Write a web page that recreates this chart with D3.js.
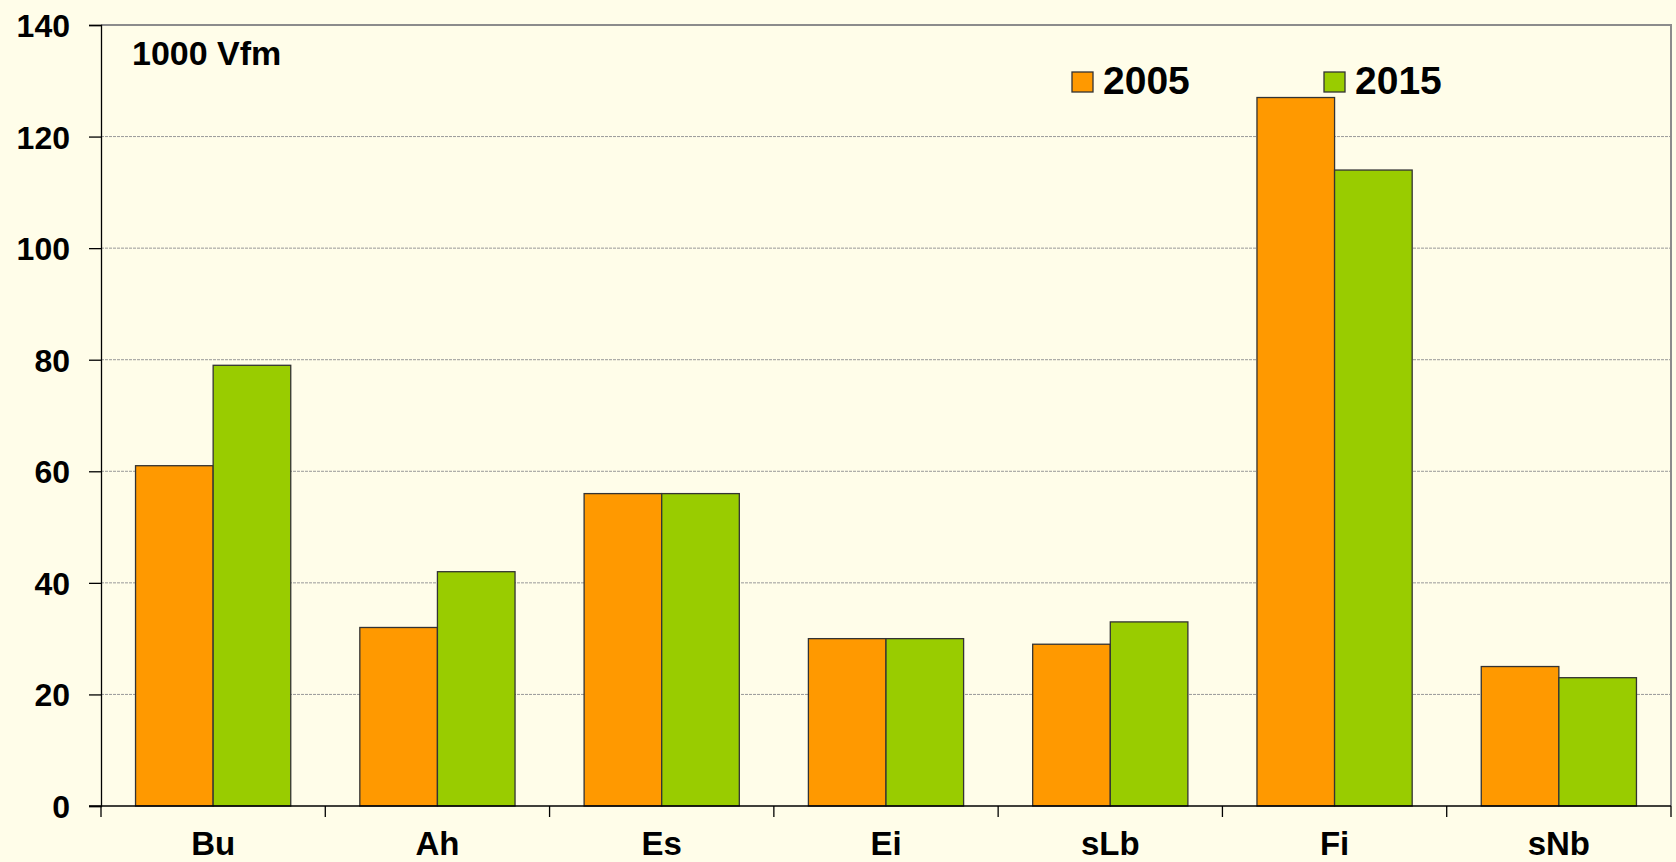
<!DOCTYPE html>
<html>
<head>
<meta charset="utf-8">
<script src="https://cdn.jsdelivr.net/npm/d3@7"></script>
<style>
  body { margin: 0; background: #fffde9; }
  svg { display: block; }
  text { font-family: Arial, "Liberation Sans", sans-serif; font-weight: bold; fill: #000; }
</style>
</head>
<body>
<div id="chart"></div>
<script>
// data
var categories = ["Bu", "Ah", "Es", "Ei", "sLb", "Fi", "sNb"];
var years = ["2005", "2015"];
var values2005 = [61, 32, 56, 30, 29, 127, 25];
var values2015 = [79, 42, 56, 30, 33, 114, 23];
var yTicks = [0, 20, 40, 60, 80, 100, 120, 140];
var colors = ["#ff9900", "#99cc00"];

var width = 1676, height = 862;
// note: "top" is a window property, so use other names
var plotLeft = 101, plotRight = 1671, plotTop = 25, plotBottom = 806;

var svg = d3.select("#chart").append("svg").attr("width", width).attr("height", height);
svg.append("rect").attr("width", width).attr("height", height).attr("fill", "#fffde9");

var x0 = d3.scaleBand().domain(categories).range([plotLeft, plotRight]).paddingInner(0).paddingOuter(0);
var x1 = d3.scaleBand().domain(years).range([x0.bandwidth() * 0.154, x0.bandwidth() * 0.846]);
var y = d3.scaleLinear().domain([0, 140]).range([plotBottom, plotTop]);

// gridlines
svg.append("g")
    .selectAll("line")
    .data(yTicks.filter(function (d) { return d > 0 && d < 140; }))
    .enter().append("line")
    .attr("x1", plotLeft).attr("x2", plotRight)
    .attr("y1", function (d) { return y(d); })
    .attr("y2", function (d) { return y(d); })
    .attr("stroke", "#999")
    .attr("stroke-width", 1)
    .attr("stroke-dasharray", "3,1");

// plot border top + right
svg.append("path")
    .attr("d", "M" + plotLeft + "," + plotTop + "H" + plotRight + "V" + plotBottom)
    .attr("fill", "none").attr("stroke", "#8c8c8c").attr("stroke-width", 2);

// bars
var rows = categories.map(function (c, i) {
    return { cat: c, vals: [values2005[i], values2015[i]] };
});
var groups = svg.append("g").selectAll("g")
    .data(rows)
    .enter().append("g")
    .attr("transform", function (d) { return "translate(" + x0(d.cat) + ",0)"; });
groups.selectAll("rect")
    .data(function (d) { return d.vals.map(function (v, j) { return { year: years[j], v: v, j: j }; }); })
    .enter().append("rect")
    .attr("x", function (d) { return x1(d.year); })
    .attr("y", function (d) { return y(d.v); })
    .attr("width", x1.bandwidth())
    .attr("height", function (d) { return y(0) - y(d.v); })
    .attr("fill", function (d) { return colors[d.j]; })
    .attr("stroke", "#333")
    .attr("stroke-width", 1.3);

// y axis
var yAxis = d3.axisLeft(y).tickValues(yTicks).tickSize(12).tickPadding(19);
var gy = svg.append("g").attr("transform", "translate(" + plotLeft + ",0)").call(yAxis);
gy.select(".domain").attr("stroke", "#000").attr("stroke-width", 1.3);
gy.selectAll(".tick line").attr("stroke", "#000").attr("stroke-width", 1.3);
gy.selectAll(".tick text").style("font-size", "32px").attr("dy", "0.36em");

// x axis: ticks at category boundaries
svg.append("line")
    .attr("x1", plotLeft - 12).attr("x2", plotRight)
    .attr("y1", plotBottom).attr("y2", plotBottom)
    .attr("stroke", "#000").attr("stroke-width", 1.3);
var bounds = categories.map(function (c) { return x0(c); }).concat([plotRight]);
svg.append("g").selectAll("line")
    .data(bounds)
    .enter().append("line")
    .attr("x1", function (d) { return d; }).attr("x2", function (d) { return d; })
    .attr("y1", plotBottom).attr("y2", plotBottom + 11)
    .attr("stroke", "#000").attr("stroke-width", 1.3);
svg.append("g").selectAll("text")
    .data(categories)
    .enter().append("text")
    .attr("x", function (d) { return x0(d) + x0.bandwidth() / 2; })
    .attr("y", 855)
    .attr("text-anchor", "middle")
    .style("font-size", "33px")
    .text(function (d) { return d; });

// unit label
svg.append("text")
    .attr("x", 132).attr("y", 65)
    .style("font-size", "34px")
    .text("1000 Vfm");

// legend
var legendX = [1072, 1324];
var legend = svg.append("g").selectAll("g")
    .data(years)
    .enter().append("g")
    .attr("transform", function (d, i) { return "translate(" + legendX[i] + ",72)"; });
legend.append("rect")
    .attr("width", 21).attr("height", 20)
    .attr("fill", function (d, i) { return colors[i]; })
    .attr("stroke", "#333").attr("stroke-width", 1.3);
legend.append("text")
    .attr("x", 31).attr("y", 22)
    .style("font-size", "39px")
    .text(function (d) { return d; });
</script>
</body>
</html>
